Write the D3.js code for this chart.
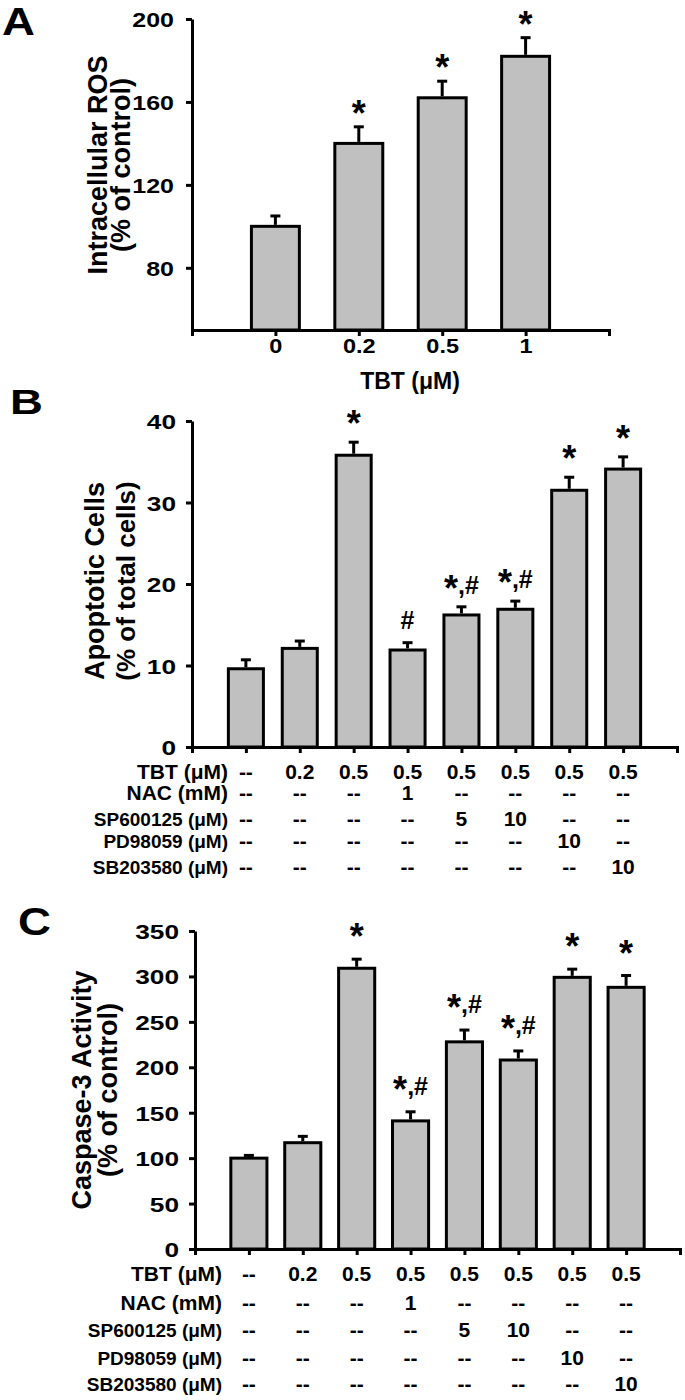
<!DOCTYPE html>
<html><head><meta charset="utf-8">
<script src="https://cdn.jsdelivr.net/npm/d3@7"></script>
<style>body{margin:0;background:#fff}</style>
</head><body><div id="chart"></div>
<script>
// ---------- Panel A data ----------
const tbtDoses = ["0", "0.2", "0.5", "1"];
const rosValues = [100, 140, 162, 182];
const rosErrors = [5, 8, 8, 9];
const rosSig = ["", "*", "*", "*"];
const rosTicks = [80, 120, 160, 200];

// ---------- Panels B & C data ----------
const groups = ["g1", "g2", "g3", "g4", "g5", "g6", "g7", "g8"];
const apoValues = [9.6, 12.1, 35.8, 11.9, 16.2, 16.9, 31.5, 34.1];
const apoErrors = [1.1, 0.9, 1.6, 0.9, 1.0, 1.0, 1.6, 1.5];
const apoSig = ["", "", "*", "#", "*,#", "*,#", "*", "*"];
const apoTicks = [0, 10, 20, 30, 40];

const casValues = [100, 117, 309, 141, 228, 208, 299, 288];
const casErrors = [3, 7, 10, 10, 13, 10, 9, 13];
const casSig = ["", "", "*", "*,#", "*,#", "*,#", "*", "*"];
const casTicks = [0, 50, 100, 150, 200, 250, 300, 350];

const treatmentLabels = ["TBT (\u03bcM)", "NAC (mM)", "SP600125 (\u03bcM)", "PD98059 (\u03bcM)", "SB203580 (\u03bcM)"];
const tbtRow  = ["--", "0.2", "0.5", "0.5", "0.5", "0.5", "0.5", "0.5"];
const nacRow  = ["--", "--", "--", "1", "--", "--", "--", "--"];
const spRow   = ["--", "--", "--", "--", "5", "10", "--", "--"];
const pdRow   = ["--", "--", "--", "--", "--", "--", "10", "--"];
const sbRow   = ["--", "--", "--", "--", "--", "--", "--", "10"];
const treatmentRows = [tbtRow, nacRow, spRow, pdRow, sbRow];

// ---------- drawing ----------
const FONT = "'Liberation Sans', Arial, Helvetica, sans-serif";
const svg = d3.select("#chart").append("svg")
  .attr("width", 685).attr("height", 1400)
  .style("background", "#fff");

function sigLabel(g, x, yc, label, F, SF) {
  const t = g.append("text").attr("x", x).attr("y", yc)
    .attr("text-anchor", "middle").attr("font-family", FONT)
    .attr("font-weight", "bold").attr("fill", "#000");
  let cur = 0;
  for (const ch of label) {
    const target = ch === "*" ? 0.556 * SF : 0.35 * F + 4;
    t.append("tspan").attr("dy", target - cur)
      .attr("font-size", ch === "*" ? SF : F).text(ch);
    cur = target;
  }
}

function panel(o) {
  const g = svg.append("g");
  const x = d3.scalePoint().domain(o.cats).range([o.x0, o.x1]).padding(1);
  const y = d3.scaleLinear().domain(o.domain).range([o.yBase, o.yTop]);
  const bw = x.step() * o.barFrac;

  // bars
  g.selectAll("rect.bar").data(o.values).join("rect")
    .attr("class", "bar")
    .attr("x", (d, i) => x(o.cats[i]) - bw / 2)
    .attr("y", d => y(d))
    .attr("width", bw)
    .attr("height", d => y(o.domain[0]) - y(d))
    .attr("fill", "#c0c0c0").attr("stroke", "#000").attr("stroke-width", 3);

  // error bars
  const eb = g.selectAll("g.err").data(o.values).join("g").attr("class", "err");
  eb.append("line")
    .attr("x1", (d, i) => x(o.cats[i])).attr("x2", (d, i) => x(o.cats[i]))
    .attr("y1", d => y(d) - 1.5).attr("y2", (d, i) => y(d + o.errors[i]))
    .attr("stroke", "#000").attr("stroke-width", 3);
  eb.append("line")
    .attr("x1", (d, i) => x(o.cats[i]) - 5).attr("x2", (d, i) => x(o.cats[i]) + 5)
    .attr("y1", (d, i) => y(d + o.errors[i])).attr("y2", (d, i) => y(d + o.errors[i]))
    .attr("stroke", "#000").attr("stroke-width", 3);

  // significance marks
  o.values.forEach((d, i) => {
    if (o.sig[i]) sigLabel(g, x(o.cats[i]), y(d + o.errors[i]) - o.sigOff, o.sig[i], 25, 36);
  });

  // x axis
  const xa = g.append("g").attr("transform", `translate(0,${o.yBase})`)
    .call(d3.axisBottom(x).tickSize(6).tickSizeOuter(6).tickFormat(o.xLabels ? (d) => d : () => ""));
  // y axis
  const ya = g.append("g").attr("transform", `translate(${o.x0},0)`)
    .call(d3.axisLeft(y).tickValues(o.ticks).tickSize(6).tickSizeOuter(0));
  [xa, ya].forEach(a => {
    a.select(".domain").attr("stroke", "#000").attr("stroke-width", 3);
    a.selectAll(".tick line").attr("stroke", "#000").attr("stroke-width", 3);
  });
  ya.selectAll(".tick text")
    .attr("font-family", FONT).attr("font-weight", "bold").attr("font-size", o.tickFs)
    .attr("fill", "#000")
    .attr("x", -o.tickGap / 1.25).attr("dy", "0.36em")
    .attr("transform", "scale(1.25,1)");
  if (o.xLabels) {
    xa.selectAll(".tick text")
      .attr("font-family", FONT).attr("font-weight", "bold").attr("font-size", 21)
      .attr("fill", "#000").attr("y", 23.5).attr("dy", 0)
      .attr("transform", "scale(1.12,1)")
      .attr("x", 0).attr("text-anchor", "middle");
  }

  // y-axis title (two lines, rotated)
  o.yTitle.forEach((t, k) => {
    g.append("text")
      .attr("transform", `translate(${o.yTitleX[k]},${o.yTitleY}) rotate(-90)`)
      .attr("text-anchor", "middle").attr("font-family", FONT)
      .attr("font-weight", "bold").attr("font-size", o.yTitleFs[k]).attr("fill", "#000")
      .text(t);
  });

  // treatment table
  if (o.rows) {
    o.rows.forEach((row, r) => {
      g.append("text").attr("x", o.rowLabelX).attr("y", o.rowY[r])
        .attr("text-anchor", "end").attr("font-family", FONT).attr("font-weight", "bold")
        .attr("font-size", r < 2 ? 21 : 19).attr("fill", "#000").text(treatmentLabels[r]);
      g.selectAll(null).data(row).join("text")
        .attr("x", (d, i) => x(o.cats[i])).attr("y", o.rowY[r])
        .attr("text-anchor", "middle").attr("font-family", FONT).attr("font-weight", "bold")
        .attr("font-size", 21).attr("fill", "#000").text(d => d);
    });
  }

  // panel letter
  svg.append("text")
    .attr("transform", `translate(${o.letterX},${o.letterY}) scale(${o.letterSX},1)`)
    .attr("font-family", FONT).attr("font-weight", "bold").attr("font-size", o.letterFs)
    .attr("fill", "#000").text(o.letter);
  return { g, x, y };
}

// Panel A
const pA = panel({
  cats: tbtDoses, values: rosValues, errors: rosErrors, sig: rosSig,
  x0: 192, x1: 609, yBase: 330, yTop: 19, domain: [50, 200], ticks: rosTicks,
  barFrac: 0.575, tickFs: 20, tickGap: 18, sigOff: 21, xLabels: true,
  yTitle: ["Intracellular ROS", "(% of control)"], yTitleX: [107, 130], yTitleY: 165, yTitleFs: [27, 27],
  letter: "A", letterX: 2, letterY: 35, letterFs: 38, letterSX: 1.2
});
pA.g.append("text").attr("x", 410).attr("y", 389).attr("text-anchor", "middle")
  .attr("font-family", FONT).attr("font-weight", "bold").attr("font-size", 23)
  .attr("fill", "#000").text("TBT (\u03bcM)");

// Panel B
panel({
  cats: groups, values: apoValues, errors: apoErrors, sig: apoSig,
  x0: 192, x1: 677, yBase: 747, yTop: 421, domain: [0, 40], ticks: apoTicks,
  barFrac: 0.65, tickFs: 21, tickGap: 16, sigOff: 26, xLabels: false,
  yTitle: ["Apoptotic Cells", "(% of total cells)"], yTitleX: [104, 135], yTitleY: 581, yTitleFs: [27, 26],
  rows: treatmentRows, rowY: [779, 800, 826, 848, 874], rowLabelX: 228,
  letter: "B", letterX: 10, letterY: 414, letterFs: 35, letterSX: 1.3
});

// Panel C
panel({
  cats: groups, values: casValues, errors: casErrors, sig: casSig,
  x0: 195, x1: 680, yBase: 1249, yTop: 931, domain: [0, 350], ticks: casTicks,
  barFrac: 0.67, tickFs: 21, tickGap: 16, sigOff: 30, xLabels: false,
  yTitle: ["Caspase-3 Activity", "(% of control)"], yTitleX: [91, 117], yTitleY: 1090, yTitleFs: [27, 27],
  rows: treatmentRows, rowY: [1281, 1310, 1337, 1365, 1391], rowLabelX: 222,
  letter: "C", letterX: 18, letterY: 935, letterFs: 38, letterSX: 1.2
});
</script>
</body></html>
